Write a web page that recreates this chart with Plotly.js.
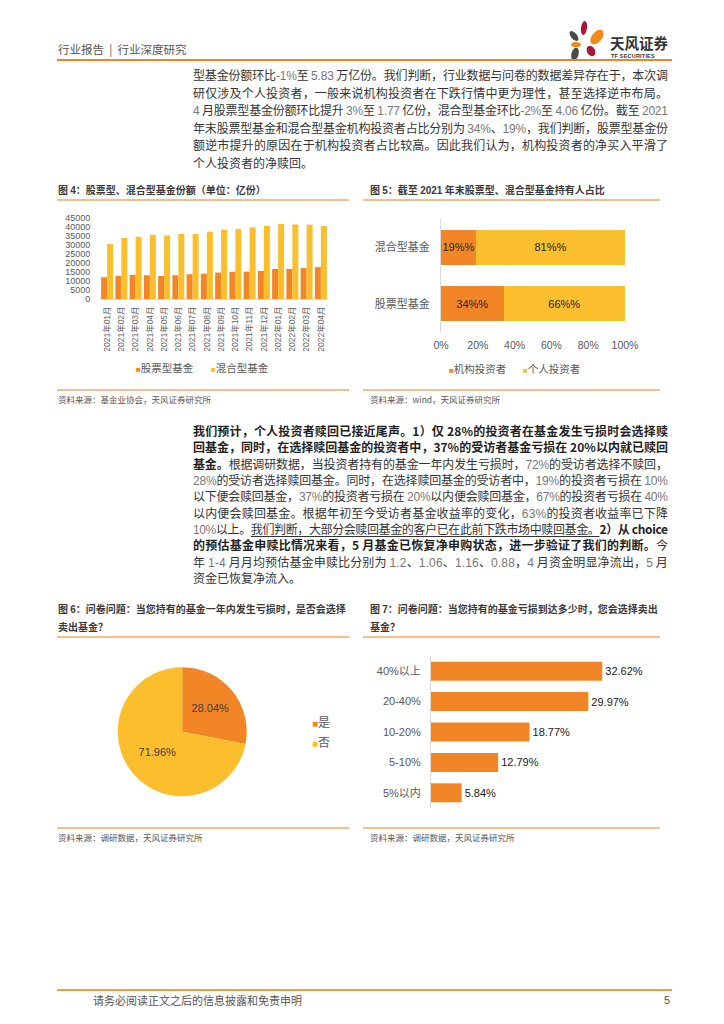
<!DOCTYPE html>
<html><head><meta charset="utf-8">
<script src="https://cdn.plot.ly/plotly-3.0.1.min.js"></script>
<style>
body{margin:0;width:724px;height:1024px;background:#fff;position:relative;overflow:hidden;font-family:"Liberation Sans","Noto Sans CJK SC",sans-serif;}
.a{position:absolute;white-space:nowrap;}
.ln{position:absolute;left:193px;width:475px;height:18px;line-height:18px;font-size:12px;color:#333;white-space:nowrap;font-family:"Noto Sans CJK SC",sans-serif;}
.n{font-family:"Liberation Sans",sans-serif;color:#777;}
.b{font-weight:bold;color:#1f1f1f;}
.b .n{color:#1f1f1f;}
u{text-decoration:underline;text-underline-offset:2px;}
.ttl{position:absolute;font-size:10px;font-weight:bold;color:#3a3a3a;line-height:18px;font-family:"Noto Sans CJK SC",sans-serif;white-space:nowrap;}
.ttl .n{font-family:"Liberation Sans",sans-serif;color:#3a3a3a;}
.hl{position:absolute;height:1.5px;background:#F8BD8C;}
.src{position:absolute;font-size:8.5px;color:#555;font-family:"Noto Sans CJK SC",sans-serif;white-space:nowrap;line-height:12px;}
.chart{position:absolute;}
</style></head>
<body>
<!-- header -->
<div class="a" style="left:58px;top:41px;font-size:11.5px;color:#555;font-family:'Noto Sans CJK SC';line-height:16px;">行业报告&nbsp;&nbsp;|&nbsp;&nbsp;行业深度研究</div>
<svg class="a" style="left:560px;top:16px" width="50" height="50" viewBox="560 16 50 50">
 <ellipse cx="584" cy="28" rx="3" ry="7" fill="#A8173A" transform="rotate(8 584 28)"/>
 <ellipse cx="574" cy="36" rx="3" ry="6" fill="#4A4A4A" transform="rotate(-40 574 36)"/>
 <ellipse cx="597" cy="37" rx="5" ry="8.5" fill="#F08A1C" transform="rotate(40 597 37)"/>
 <ellipse cx="576" cy="44.5" rx="5" ry="2.6" fill="#F08A1C"/>
 <ellipse cx="575" cy="54" rx="3.6" ry="6.5" fill="#4A4A4A" transform="rotate(15 575 54)"/>
 <ellipse cx="591" cy="51" rx="4" ry="5.5" fill="#A8173A" transform="rotate(-30 591 51)"/>
</svg>
<div class="a" style="left:610px;top:34px;font-size:14.5px;font-weight:bold;color:#333;font-family:'Noto Sans CJK SC';line-height:18px;">天风证券</div>
<div class="a" style="left:611px;top:52px;font-size:5.5px;font-weight:bold;color:#333;line-height:8px;letter-spacing:0.2px;">TF SECURITIES</div>
<div class="a" style="left:57px;top:59px;width:615px;height:2px;background:#EE8422;"></div>

<!-- paragraph 1 -->
<div class="ln j" style="top:66px">型基金份额环比<span class="n">-1%</span>至 <span class="n">5.83</span> 万亿份。我们判断，行业数据与问卷的数据差异存在于，本次调</div>
<div class="ln j" style="top:84px">研仅涉及个人投资者，一般来说机构投资者在下跌行情中更为理性，甚至选择逆市布局。</div>
<div class="ln j" style="top:101px"><span class="n">4</span> 月股票型基金份额环比提升 <span class="n">3%</span>至 <span class="n">1.77</span> 亿份，混合型基金环比<span class="n">-2%</span>至 <span class="n">4.06</span> 亿份。截至 <span class="n">2021</span></div>
<div class="ln j" style="top:119px">年末股票型基金和混合型基金机构投资者占比分别为 <span class="n">34%</span>、<span class="n">19%</span>，我们判断，股票型基金份</div>
<div class="ln j" style="top:136px">额逆市提升的原因在于机构投资者占比较高。因此我们认为，机构投资者的净买入平滑了</div>
<div class="ln" style="top:154px">个人投资者的净赎回。</div>

<!-- figure 4/5 titles -->
<div class="ttl" style="left:58px;top:181px">图 <span class="n">4</span>：股票型、混合型基金份额（单位：亿份）</div>
<div class="hl" style="left:57px;top:199px;width:292px;"></div>
<div class="ttl" style="left:370px;top:181px">图 <span class="n">5</span>：截至 <span class="n">2021</span> 年末股票型、混合型基金持有人占比</div>
<div class="hl" style="left:363px;top:199px;width:297px;"></div>

<div id="c4" class="chart" style="left:55px;top:205px;width:290px;height:180px;"></div>
<div id="c5" class="chart" style="left:362px;top:205px;width:300px;height:180px;"></div>

<div class="hl" style="left:57px;top:389px;width:292px;"></div>
<div class="src" style="left:58px;top:393px">资料来源：基金业协会，天风证券研究所</div>
<div class="hl" style="left:363px;top:389px;width:297px;"></div>
<div class="src" style="left:370px;top:393px">资料来源：wind，天风证券研究所</div>

<!-- paragraph 2 -->
<div class="ln j b" style="top:422px">我们预计，个人投资者赎回已接近尾声。1）仅 28%的投资者在基金发生亏损时会选择赎</div>
<div class="ln j b" style="top:438px">回基金，同时，在选择赎回基金的投资者中，37%的受访者基金亏损在 20%以内就已赎回</div>
<div class="ln j" style="top:455px"><span class="b">基金。</span>根据调研数据，当投资者持有的基金一年内发生亏损时，<span class="n">72%</span>的受访者选择不赎回，</div>
<div class="ln j" style="top:471px"><span class="n">28%</span>的受访者选择赎回基金。同时，在选择赎回基金的受访者中，<span class="n">19%</span>的投资者亏损在 <span class="n">10%</span></div>
<div class="ln j" style="top:487px">以下便会赎回基金，<span class="n">37%</span>的投资者亏损在 <span class="n">20%</span>以内便会赎回基金，<span class="n">67%</span>的投资者亏损在 <span class="n">40%</span></div>
<div class="ln j" style="top:504px">以内便会赎回基金。根据年初至今受访者基金收益率的变化，<span class="n">63%</span>的投资者收益率已下降</div>
<div class="ln j" style="top:520px"><span class="n">10%</span>以上。<u>我们判断，大部分会赎回基金的客户已在此前下跌市场中赎回基金。</u><span class="b">2）从 choice</span></div>
<div class="ln j" style="top:536px"><span class="b">的预估基金申赎比情况来看，5 月基金已恢复净申购状态，进一步验证了我们的判断。</span>今</div>
<div class="ln j" style="top:553px">年 <span class="n">1-4</span> 月月均预估基金申赎比分别为 <span class="n">1.2</span>、<span class="n">1.06</span>、<span class="n">1.16</span>、<span class="n">0.88</span>，<span class="n">4</span> 月资金明显净流出，<span class="n">5</span> 月</div>
<div class="ln" style="top:569px">资金已恢复净流入。</div>

<!-- figure 6/7 titles -->
<div class="ttl" style="left:58px;top:600px">图 <span class="n">6</span>：问卷问题：当您持有的基金一年内发生亏损时，是否会选择</div>
<div class="ttl" style="left:58px;top:618px">卖出基金？</div>
<div class="hl" style="left:57px;top:636px;width:292px;"></div>
<div class="ttl" style="left:370px;top:600px">图 <span class="n">7</span>：问卷问题：当您持有的基金亏损到达多少时，您会选择卖出</div>
<div class="ttl" style="left:370px;top:618px">基金？</div>
<div class="hl" style="left:363px;top:636px;width:297px;"></div>

<div id="c6" class="chart" style="left:55px;top:640px;width:300px;height:185px;"></div>
<div id="c7" class="chart" style="left:362px;top:645px;width:300px;height:170px;"></div>

<div class="hl" style="left:57px;top:827px;width:292px;"></div>
<div class="src" style="left:58px;top:831px">资料来源：调研数据，天风证券研究所</div>
<div class="hl" style="left:363px;top:827px;width:297px;"></div>
<div class="src" style="left:370px;top:831px">资料来源：调研数据，天风证券研究所</div>

<!-- footer -->
<div class="a" style="left:57px;top:989px;width:615px;height:2px;background:#F0A030;"></div>
<div class="a" style="left:93px;top:992px;font-size:11px;color:#555;font-family:'Noto Sans CJK SC';line-height:16px;">请务必阅读正文之后的信息披露和免责申明</div>
<div class="a" style="left:664px;top:992px;font-size:11px;color:#555;line-height:16px;">5</div>

<script>
// ---- data ----
const months = ['2021年01月','2021年02月','2021年03月','2021年04月','2021年05月','2021年06月','2021年07月','2021年08月','2021年09月','2021年10月','2021年11月','2021年12月','2022年01月','2022年02月','2022年03月','2022年04月'];
const stockFundShares = [12100,12800,13400,13200,12800,13200,13800,14100,14700,15100,15200,15600,16700,16700,17200,17700];
const mixedFundShares = [30500,34000,34600,35700,35300,36200,36100,37400,38500,38800,39800,40700,41600,41400,41300,40600];
const fig4Series = ['股票型基金','混合型基金'];

const holderTypes = ['股票型基金','混合型基金'];
const institutionalPct = [34,19];
const individualPct = [66,81];
const fig5Series = ['机构投资者','个人投资者'];

const pieLabels = ['是','否'];
const pieValues = [28.04,71.96];

const lossLevels = ['40%以上','20-40%','10-20%','5-10%','5%以内'];
const lossPct = [32.62,29.97,18.77,12.79,5.84];

// ---- styles ----
const ORANGE = '#F28626', YELLOW = '#FBBE2C';
const FONT = 'Liberation Sans, Noto Sans CJK SC, sans-serif';
const cfg = {staticPlot:true, displayModeBar:false};
const clear = 'rgba(0,0,0,0)';
function legendText(color, label, sq){
  return '<span style="color:' + color + ';font-size:' + (sq || 8) + 'px">■</span>' + label;
}

// Justify text lines across the column width
function justify(){
  document.querySelectorAll('.ln.j').forEach(function(el){
    el.style.letterSpacing = '0px';
    const r = document.createRange(); r.selectNodeContents(el);
    const w = r.getBoundingClientRect().width;
    const n = el.textContent.length;
    if(n > 1) el.style.letterSpacing = ((475 - w) / (n - 1)) + 'px';
  });
}
justify();
if(document.fonts && document.fonts.ready) document.fonts.ready.then(justify);

// Figure 4
Plotly.newPlot('c4', [
  {type:'bar', name:fig4Series[0], x:months, y:stockFundShares, marker:{color:ORANGE}},
  {type:'bar', name:fig4Series[1], x:months, y:mixedFundShares, marker:{color:YELLOW}}
], {
  width:290, height:180, margin:{l:45, r:17, t:13, b:86},
  barmode:'group', bargap:0.16, bargroupgap:0,
  font:{family:FONT, size:9, color:'#595959'},
  paper_bgcolor:clear, plot_bgcolor:clear,
  xaxis:{type:'category', tickangle:-90, tickfont:{size:8.5, color:'#666'}, showline:true, linecolor:'#D9D9D9', ticks:'outside', ticklen:3, tickcolor:clear, showgrid:false, automargin:false},
  yaxis:{range:[0,45000], dtick:5000, tickformat:'d', showgrid:false, zeroline:false, showline:false, ticks:'outside', ticklen:7, tickcolor:clear, automargin:false},
  showlegend:false,
  annotations:[
    {xref:'paper', yref:'paper', x:0.149, y:-0.852, xanchor:'left', yanchor:'middle', showarrow:false, text:legendText(ORANGE, fig4Series[0]), font:{size:10.5, color:'#595959'}},
    {xref:'paper', yref:'paper', x:0.478, y:-0.852, xanchor:'left', yanchor:'middle', showarrow:false, text:legendText(YELLOW, fig4Series[1]), font:{size:10.5, color:'#595959'}}
  ]
}, cfg);

// Figure 5
Plotly.newPlot('c5', [
  {type:'bar', orientation:'h', name:fig5Series[0], y:holderTypes, x:institutionalPct, marker:{color:ORANGE},
   texttemplate:'%{x}%', textposition:'inside', insidetextanchor:'middle', constraintext:'none', textfont:{color:'#262626', size:11}},
  {type:'bar', orientation:'h', name:fig5Series[1], y:holderTypes, x:individualPct, marker:{color:YELLOW},
   texttemplate:'%{x}%', textposition:'inside', insidetextanchor:'middle', constraintext:'none', textfont:{color:'#262626', size:11}}
], {
  width:300, height:180, margin:{l:79, r:37, t:14, b:53},
  barmode:'stack', bargap:0.386,
  font:{family:FONT, size:10.5, color:'#595959'},
  paper_bgcolor:clear, plot_bgcolor:clear,
  xaxis:{range:[0,100], dtick:20, ticksuffix:'%', showgrid:false, zeroline:false, showline:false, ticks:'outside', ticklen:3, tickcolor:clear, automargin:false},
  yaxis:{type:'category', showline:true, linecolor:'#D9D9D9', ticks:'outside', ticklen:8, tickcolor:clear, tickfont:{size:11}, automargin:false},
  showlegend:false,
  annotations:[
    {xref:'paper', yref:'paper', x:0.03, y:-0.327, xanchor:'left', yanchor:'middle', showarrow:false, text:legendText(ORANGE, fig5Series[0]), font:{size:10.5, color:'#595959'}},
    {xref:'paper', yref:'paper', x:0.435, y:-0.327, xanchor:'left', yanchor:'middle', showarrow:false, text:legendText(YELLOW, fig5Series[1]), font:{size:10.5, color:'#595959'}}
  ]
}, cfg);

// Figure 6
Plotly.newPlot('c6', [
  {type:'pie', labels:pieLabels, values:pieValues, sort:false, direction:'clockwise', rotation:0,
   marker:{colors:[ORANGE, YELLOW], line:{width:0}},
   texttemplate:'%{value:.2f}%', textposition:'inside', insidetextorientation:'horizontal',
   textfont:{color:'#404040', size:11}, domain:{x:[0.209,0.639], y:[0.153,0.856]}}
], {
  width:300, height:185, margin:{l:0, r:0, t:0, b:0},
  font:{family:FONT, size:12, color:'#595959'},
  paper_bgcolor:clear, plot_bgcolor:clear,
  showlegend:false,
  annotations:[
    {xref:'paper', yref:'paper', x:0.85, y:0.553, xanchor:'left', yanchor:'middle', showarrow:false, text:legendText(ORANGE, pieLabels[0], 10), font:{size:12, color:'#595959'}},
    {xref:'paper', yref:'paper', x:0.85, y:0.445, xanchor:'left', yanchor:'middle', showarrow:false, text:legendText(YELLOW, pieLabels[1], 10), font:{size:12, color:'#595959'}}
  ]
}, cfg);

// Figure 7
Plotly.newPlot('c7', [
  {type:'bar', orientation:'h', y:lossLevels, x:lossPct, marker:{color:ORANGE},
   texttemplate:'%{x:.2f}%', textposition:'outside', cliponaxis:false, textfont:{color:'#1a1a1a', size:11}}
], {
  width:300, height:170, margin:{l:69, r:21, t:11, b:7},
  bargap:0.376,
  font:{family:FONT, size:11, color:'#595959'},
  paper_bgcolor:clear, plot_bgcolor:clear,
  xaxis:{range:[0,40], visible:false},
  yaxis:{type:'category', autorange:'reversed', showline:true, linecolor:'#D9D9D9', ticks:'outside', ticklen:7, tickcolor:clear, automargin:false},
  showlegend:false
}, cfg);
</script>
</body></html>
